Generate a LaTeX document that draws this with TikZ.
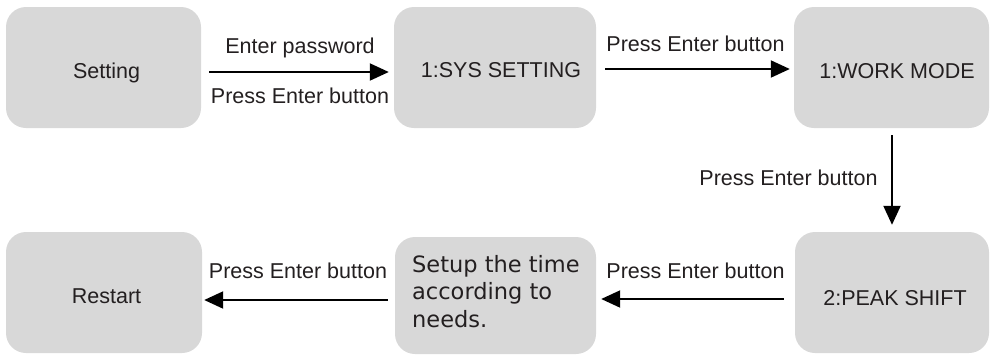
\documentclass[tikz,border=0pt]{standalone}
\usepackage{fontspec}
\setmainfont{Liberation Sans}
\newfontfamily\verd{DejaVu Sans}
\usetikzlibrary{arrows.meta}
\definecolor{boxgray}{HTML}{D8D8D8}
\definecolor{ink}{HTML}{231F20}
\begin{document}
\begin{tikzpicture}[x=1pt,y=-1pt,
  box/.style={fill=boxgray,draw=none,rounded corners=20pt,inner sep=0pt,minimum height=121pt},
  txt/.style={text=ink,font=\fontsize{21.5}{25}\selectfont,anchor=base,inner sep=0pt},
  arr/.style={draw=black,line width=2pt,-{Triangle[length=19pt,width=17pt]}}]
\useasboundingbox (0,0) rectangle (990,354);
\begin{scope}
\clip (0,0) rectangle (990,354);
\node[box,minimum width=195pt] (setting) at (103.5,67.5) {};
\node[box,minimum width=202pt] (sys) at (495,67.5) {};
\node[box,minimum width=195pt] (work) at (891.5,67.5) {};
\node[box,minimum width=194pt] (peak) at (892,292.5) {};
\node[box,minimum width=201pt,minimum height=117pt] (setup) at (495.5,295.5) {};
\node[box,minimum width=196pt] (restart) at (104,292.5) {};
\end{scope}
\node[txt] (tsetting) at (106.5,78) {Setting};
\node[txt] (tsys) at (501,77) {1:SYS SETTING};
\node[txt] (twork) at (897,78) {1:WORK MODE};
\node[txt] (tpeak) at (895,305) {2:PEAK SHIFT};
\node[txt] (trestart) at (106.5,303) {Restart};
\node[text=ink,font=\verd\fontsize{22.5}{27.5}\selectfont,align=left,anchor=base west,inner sep=0pt] (tsetup) at (412,327) {Setup the time\\according to\\needs.};
\node[txt] (l1) at (300,53) {Enter password};
\node[txt] (l2) at (300,103) {Press Enter button};
\node[txt] (l3) at (695.5,51) {Press Enter button};
\node[txt] (l4) at (788.5,185) {Press Enter button};
\node[txt] (l5) at (695.5,278) {Press Enter button};
\node[txt] (l6) at (298,278) {Press Enter button};
\draw[arr,shorten <=8pt,shorten >=5pt] ([yshift=-4.5pt]setting.east) -- ([yshift=-4.5pt]sys.west);
\draw[arr,shorten <=9pt,shorten >=4pt] ([yshift=-1.5pt]sys.east) -- ([yshift=-1.5pt]work.west);
\draw[arr,shorten <=7pt,shorten >=7pt] ([xshift=0.5pt]work.south) -- (peak.north);
\draw[arr,shorten <=11pt,shorten >=5pt] ([yshift=-6.5pt]peak.west) -- ([yshift=-3.5pt]setup.east);
\draw[arr,shorten <=7pt,shorten >=2pt] ([yshift=-4.5pt]setup.west) -- ([yshift=-7.5pt]restart.east);
\end{tikzpicture}
\end{document}
